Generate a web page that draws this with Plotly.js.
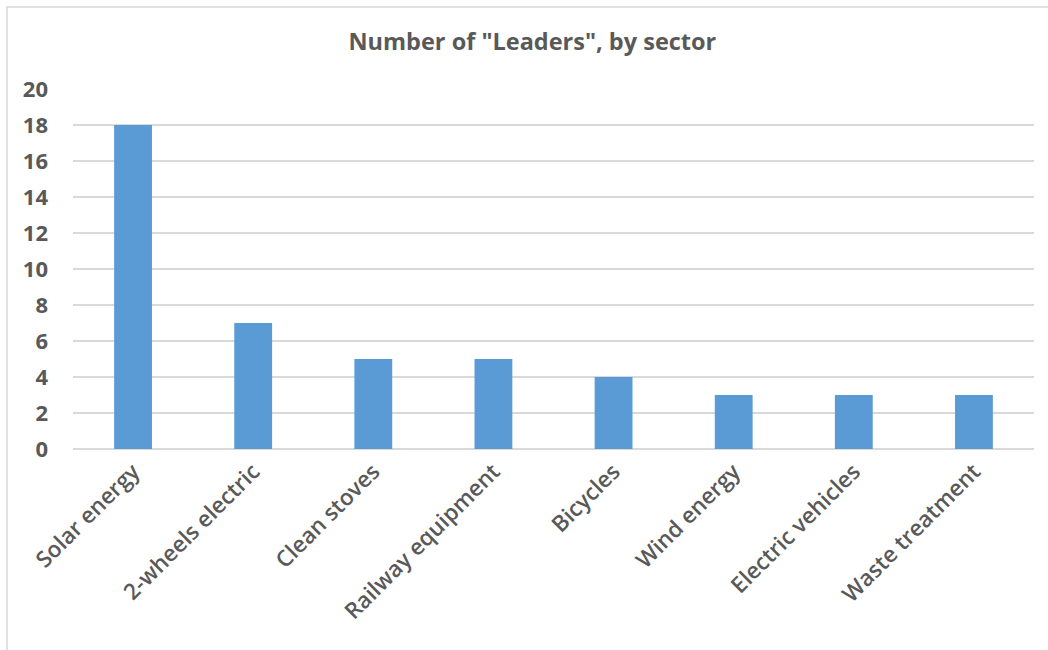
<!DOCTYPE html>
<html>
<head>
<meta charset="utf-8">
<script src="https://cdn.plot.ly/plotly-3.0.1.min.js"></script>
<style>html,body{margin:0;padding:0;background:#fff;}#chart{width:1048px;height:650px;}</style>
</head>
<body>
<div id="chart"></div>
<script>
const sectors = ["Solar energy", "2-wheels electric", "Clean stoves", "Railway equipment", "Bicycles", "Wind energy", "Electric vehicles", "Waste treatment"];
const leaders = [18, 7, 5, 5, 4, 3, 3, 3];
const yTicks = [0, 2, 4, 6, 8, 10, 12, 14, 16, 18, 20];

const textColor = "#595959";
const fontFam = "'Open Sans', 'Liberation Sans', sans-serif";

const trace = {
  type: "bar",
  x: sectors,
  y: leaders,
  marker: {color: "#5B9BD5"},
  hoverinfo: "x+y"
};

const layout = {
  width: 1048,
  height: 650,
  paper_bgcolor: "#ffffff",
  plot_bgcolor: "#ffffff",
  margin: {l: 73, r: 14, t: 89, b: 201},
  bargap: 0.685,
  showlegend: false,
  title: {
    text: "Number of \"Leaders\", by sector",
    font: {family: fontFam, size: 23.5, color: textColor, weight: 700},
    x: 0.508, xref: "container", xanchor: "center",
    y: 0.935, yref: "container", yanchor: "middle"
  },
  xaxis: {
    type: "category",
    tickangle: -45,
    showgrid: false,
    showline: false,
    ticks: "",
    ticklabelstandoff: 4,
    tickfont: {family: fontFam, size: 22.5, color: textColor, weight: 600},
    automargin: false
  },
  yaxis: {
    range: [0, 20],
    tickvals: yTicks,
    ticktext: yTicks.map(String),
    showgrid: true,
    gridcolor: "#d9d9d9",
    gridwidth: 1.5,
    zeroline: true,
    zerolinecolor: "#d9d9d9",
    zerolinewidth: 1.5,
    showline: false,
    ticks: "",
    ticklabelstandoff: 24,
    tickfont: {family: fontFam, size: 22, color: textColor, weight: 700},
    automargin: false
  },
  shapes: [{
    type: "rect",
    xref: "paper", yref: "paper",
    x0: (7 - 73) / 961, x1: (1060 - 73) / 961,
    y0: (449 - 660) / 360, y1: (449 - 7) / 360,
    line: {color: "#d9d9d9", width: 1.5},
    fillcolor: "rgba(0,0,0,0)",
    layer: "below"
  }]
};

Plotly.newPlot("chart", [trace], layout, {displayModeBar: false, staticPlot: true});
</script>
</body>
</html>
